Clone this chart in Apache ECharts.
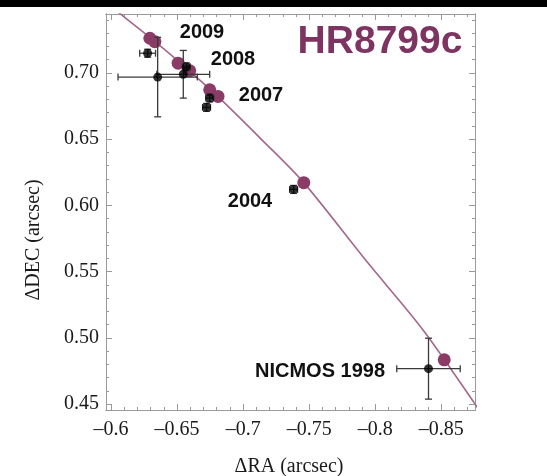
<!DOCTYPE html>
<html><head><meta charset="utf-8">
<script src="https://cdn.jsdelivr.net/npm/echarts@6/dist/echarts.min.js"></script>
<style>html,body{margin:0;padding:0;background:#fff}#c{width:547px;height:476px}</style>
</head><body><div id="c"></div>
<script>
// ---- data (arcsec) ----
const raMajor = [-0.6, -0.65, -0.7, -0.75, -0.8, -0.85];
const raMinor = [-0.59,-0.60,-0.61,-0.62,-0.63,-0.64,-0.65,-0.66,-0.67,-0.68,-0.69,-0.70,-0.71,-0.72,-0.73,-0.74,-0.75,-0.76,-0.77,-0.78,-0.79,-0.80,-0.81,-0.82,-0.83,-0.84,-0.85,-0.86,-0.87];
const decMajor = [0.45, 0.50, 0.55, 0.60, 0.65, 0.70];
const decMinor = [0.45,0.46,0.47,0.48,0.49,0.50,0.51,0.52,0.53,0.54,0.55,0.56,0.57,0.58,0.59,0.60,0.61,0.62,0.63,0.64,0.65,0.66,0.67,0.68,0.69,0.70,0.71,0.72,0.73,0.74];

// orbit fit curve [RA, DEC]
const orbitRA  = [-0.5992, -0.6068, -0.6317, -0.6506, -0.6778, -0.7140, -0.7457, -0.7933, -0.8356, -0.8748, -0.8860];
const orbitDEC = [ 0.7511,  0.7447,  0.7248,  0.7090,  0.6850,  0.6496,  0.6173,  0.5579,  0.5067,  0.4511,  0.4340];

// predicted positions (maroon)
const predRA  = [-0.6294, -0.6332, -0.6508, -0.6596, -0.6747, -0.6810, -0.7459, -0.8522];
const predDEC = [ 0.7261,  0.7235,  0.7073,  0.7015,  0.6872,  0.6822,  0.6171,  0.4834];

// measured positions (black) with errors
const obsRA   = [-0.6277, -0.6353, -0.6570, -0.6547, -0.6747, -0.6723, -0.7382, -0.8403];
const obsDEC  = [ 0.7148,  0.6968,  0.7045,  0.6989,  0.6810,  0.6739,  0.6120,  0.4767];
const obsErrRA  = [0.006, 0.030, 0.003, 0.020, 0.003, 0.003, 0.003, 0.024];
const obsErrDEC = [0.003, 0.030, 0.003, 0.018, 0.003, 0.003, 0.003, 0.023];

const epochLabels = ['2009', '2008', '2007', '2004', 'NICMOS 1998'];
const title = 'HR8799c';

const RA_MIN = -0.8755, RA_MAX = -0.5962;
const DEC_MIN = 0.4455, DEC_MAX = 0.7444;

const axisGray = '#9a9a9a';
const serif = '"Liberation Serif", "DejaVu Serif", serif';
const sans = '"Liberation Sans", Arial, sans-serif';

function xAx(pos, ticks, len, labels) {
  return {
    type: 'value', position: pos, inverse: true, min: RA_MIN, max: RA_MAX,
    axisLine: { show: true, onZero: false, lineStyle: { color: axisGray, width: 1 } },
    axisTick: { show: true, inside: true, length: len, customValues: ticks, lineStyle: { color: axisGray } },
    axisLabel: labels ? {
      show: true, customValues: raMajor, margin: 10, fontFamily: serif, fontSize: 20, color: '#1a1a1a',
      formatter: v => '\u2013' + String(Math.abs(Math.round(v * 100) / 100))
    } : { show: false },
    splitLine: { show: false }, minorTick: { show: false }
  };
}
function yAx(pos, ticks, len, labels) {
  return {
    type: 'value', position: pos, min: DEC_MIN, max: DEC_MAX,
    axisLine: { show: true, onZero: false, lineStyle: { color: axisGray, width: 1 } },
    axisTick: { show: true, inside: true, length: len, customValues: ticks, lineStyle: { color: axisGray } },
    axisLabel: labels ? {
      show: true, customValues: decMajor, margin: 7, fontFamily: serif, fontSize: 20, color: '#1a1a1a',
      formatter: v => v.toFixed(2)
    } : { show: false },
    splitLine: { show: false }, minorTick: { show: false }
  };
}

const errData = obsRA.map((x, i) => [x, obsDEC[i], obsErrRA[i], obsErrDEC[i]]);

const chart = echarts.init(document.getElementById('c'), null, { renderer: 'canvas' });
chart.setOption({
  animation: false,
  backgroundColor: '#fff',
  grid: { left: 106, right: 72, top: 14, bottom: 66, containLabel: false },
  xAxis: [xAx('bottom', raMajor, 6, true), xAx('bottom', raMinor, 3, false), xAx('top', raMajor, 6, false), xAx('top', raMinor, 3, false)],
  yAxis: [yAx('left', decMajor, 6, true), yAx('left', decMinor, 3, false), yAx('right', decMajor, 6, false), yAx('right', decMinor, 3, false)],
  series: [
    {
      type: 'line', name: 'orbit', smooth: 0.3, symbol: 'none', clip: true, z: 1,
      data: orbitRA.map((x, i) => [x, orbitDEC[i]]),
      lineStyle: { color: '#a5688b', width: 1.6 }
    },
    {
      type: 'scatter', name: 'predicted', z: 2,
      data: predRA.map((x, i) => [x, predDEC[i]]),
      symbol: 'circle', symbolSize: 13,
      itemStyle: { color: '#8a3b66', opacity: 1 }
    },
    {
      type: 'custom', name: 'errors', z: 3,
      data: errData,
      renderItem: function (params, api) {
        const x = api.value(0), y = api.value(1), ex = api.value(2), ey = api.value(3);
        const l = api.coord([x - ex, y]), r = api.coord([x + ex, y]);
        const t = api.coord([x, y + ey]), b = api.coord([x, y - ey]);
        const cap = 3.5;
        const st = { stroke: '#3a3a3a', lineWidth: 1.3 };
        const ln = (x1, y1, x2, y2) => ({ type: 'line', shape: { x1, y1, x2, y2 }, style: st });
        return {
          type: 'group', children: [
            ln(l[0], l[1], r[0], r[1]),
            ln(t[0], t[1], b[0], b[1]),
            ln(l[0], l[1] - cap, l[0], l[1] + cap),
            ln(r[0], r[1] - cap, r[0], r[1] + cap),
            ln(t[0] - cap, t[1], t[0] + cap, t[1]),
            ln(b[0] - cap, b[1], b[0] + cap, b[1])
          ]
        };
      }
    },
    {
      type: 'scatter', name: 'measured', z: 4,
      data: obsRA.map((x, i) => [x, obsDEC[i]]),
      symbol: 'circle', symbolSize: 9,
      itemStyle: { color: '#000' }
    }
  ],
  graphic: [
    { type: 'rect', left: 0, top: 0, shape: { width: 547, height: 7 }, style: { fill: '#000' }, z: 100 },
    { type: 'text', x: 380, y: 42, style: { text: title, font: 'bold 39px ' + sans, fill: '#7d3461', align: 'center', verticalAlign: 'middle' } },
    { type: 'text', x: 202, y: 32, style: { text: epochLabels[0], font: 'bold 20px ' + sans, fill: '#111', align: 'center', verticalAlign: 'middle' } },
    { type: 'text', x: 233, y: 59, style: { text: epochLabels[1], font: 'bold 20px ' + sans, fill: '#111', align: 'center', verticalAlign: 'middle' } },
    { type: 'text', x: 261, y: 95, style: { text: epochLabels[2], font: 'bold 20px ' + sans, fill: '#111', align: 'center', verticalAlign: 'middle' } },
    { type: 'text', x: 250, y: 201, style: { text: epochLabels[3], font: 'bold 20px ' + sans, fill: '#111', align: 'center', verticalAlign: 'middle' } },
    { type: 'text', x: 320, y: 371, style: { text: epochLabels[4], font: 'bold 20px ' + sans, fill: '#111', align: 'center', verticalAlign: 'middle' } },
    { type: 'text', x: 289, y: 467, style: { text: '\u0394RA (arcsec)', font: '20px ' + serif, fill: '#1a1a1a', align: 'center', verticalAlign: 'middle' } },
    { type: 'text', x: 34, y: 240, rotation: Math.PI / 2, style: { text: '\u0394DEC (arcsec)', font: '20px ' + serif, fill: '#1a1a1a', align: 'center', verticalAlign: 'middle' } }
  ]
});
</script></body></html>
